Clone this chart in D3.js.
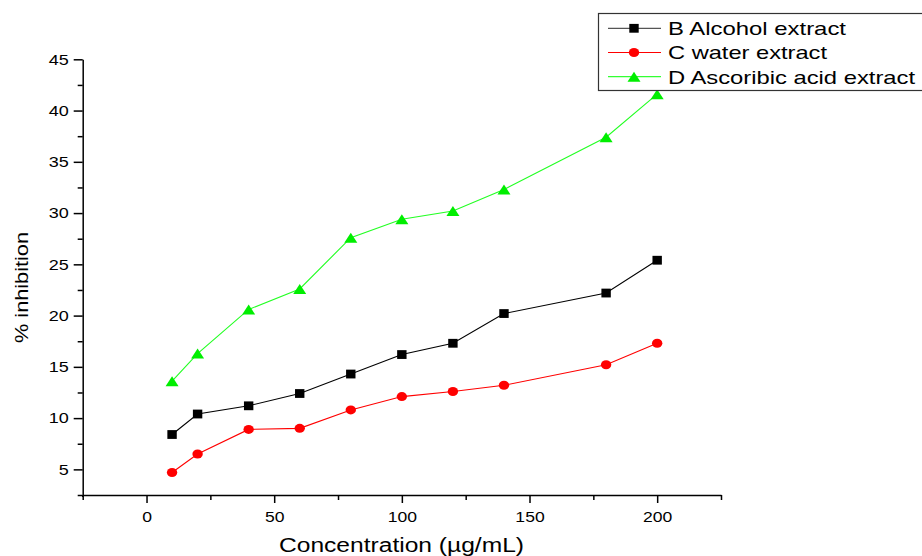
<!DOCTYPE html>
<html>
<head>
<meta charset="utf-8">
<script src="https://cdn.jsdelivr.net/npm/d3@7"></script>
<style>
  html, body { margin: 0; padding: 0; background: #fff; }
  svg { display: block; font-family: "Liberation Sans", Arial, sans-serif; }
</style>
</head>
<body>
<svg id="chart" width="922" height="556"></svg>
<script>
// Concentrations tested (µg/mL)
const concentrations = [10, 20, 40, 60, 80, 100, 120, 140, 180, 200];
// % inhibition for each extract
const alcoholExtract = [8.4, 10.4, 11.2, 12.4, 14.3, 16.2, 17.3, 20.2, 22.2, 25.4];
const waterExtract = [4.7, 6.5, 8.9, 9.0, 10.8, 12.1, 12.6, 13.2, 15.2, 17.3];
const ascorbicExtract = [13.6, 16.3, 20.6, 22.6, 27.6, 29.4, 30.2, 32.3, 37.4, 41.6];

const seriesNames = ["B Alcohol extract", "C water extract", "D Ascoribic acid extract"];
const xMajorTicks = [0, 50, 100, 150, 200];
const xMinorTicks = [-25, 25, 75, 125, 175, 225];
const yMajorTicks = [5, 10, 15, 20, 25, 30, 35, 40, 45];
const yMinorTicks = [2.5, 7.5, 12.5, 17.5, 22.5, 27.5, 32.5, 37.5, 42.5];

const svg = d3.select("#chart");

const x = d3.scaleLinear().domain([-25, 225]).range([82.7, 721]);
const y = d3.scaleLinear().domain([2.5, 45]).range([495, 59.3]);

// Stretch text horizontally by a factor, keeping its anchor
function widen(sel, factor) {
  sel.each(function () {
    const w = this.getComputedTextLength();
    d3.select(this).attr("textLength", w * factor).attr("lengthAdjust", "spacingAndGlyphs");
  });
}

// Axes
const xAxisG = svg.append("g").attr("transform", `translate(0,${y(2.5)})`);
xAxisG.call(d3.axisBottom(x).tickValues(xMinorTicks).tickSize(5).tickFormat(""));
xAxisG.call(g => g.select(".domain").remove());
const xMajorG = svg.append("g").attr("transform", `translate(0,${y(2.5)})`)
  .call(d3.axisBottom(x).tickValues(xMajorTicks).tickSize(8).tickSizeOuter(0).tickPadding(8));

const yAxisG = svg.append("g").attr("transform", `translate(${x(-25)},0)`);
yAxisG.call(d3.axisLeft(y).tickValues(yMinorTicks).tickSize(5).tickFormat(""));
yAxisG.call(g => g.select(".domain").remove());
const yMajorG = svg.append("g").attr("transform", `translate(${x(-25)},0)`)
  .call(d3.axisLeft(y).tickValues(yMajorTicks).tickSize(9).tickSizeOuter(0).tickPadding(5));

svg.selectAll(".domain, .tick line").attr("stroke", "#000").attr("stroke-width", 1.5);
svg.selectAll(".tick text").attr("font-size", 15).attr("fill", "#000")
  .attr("font-family", "'Liberation Sans', Arial, sans-serif");
widen(xMajorG.selectAll(".tick text"), 1.17);
widen(yMajorG.selectAll(".tick text"), 1.2);
// Extend the y axis line a bit below the x axis
svg.append("line").attr("x1", x(-25)).attr("x2", x(-25))
  .attr("y1", y(2.5)).attr("y2", y(2.5) + 2).attr("stroke", "#000").attr("stroke-width", 1.5);

// Axis titles
svg.append("text").attr("x", 401.5).attr("y", 551.5)
  .attr("text-anchor", "middle").attr("font-size", 20).attr("fill", "#000")
  .attr("textLength", 245).attr("lengthAdjust", "spacingAndGlyphs")
  .text("Concentration (µg/mL)");

svg.append("text").attr("transform", "translate(28,287.5) rotate(-90)")
  .attr("text-anchor", "middle").attr("font-size", 19).attr("fill", "#000")
  .attr("textLength", 111).attr("lengthAdjust", "spacingAndGlyphs")
  .text("% inhibition");

// Marker drawers
const markers = {
  square: (g, cx, cy, color) => g.append("rect").attr("x", cx - 4.7).attr("y", cy - 4.4)
    .attr("width", 9.4).attr("height", 8.8).attr("fill", color),
  circle: (g, cx, cy, color) => g.append("ellipse").attr("cx", cx).attr("cy", cy)
    .attr("rx", 5.2).attr("ry", 4.5).attr("fill", color),
  triangle: (g, cx, cy, color) => g.append("path")
    .attr("d", `M${cx - 6.5},${cy + 5}L${cx + 6.5},${cy + 5}L${cx},${cy - 5}Z`).attr("fill", color)
};

const series = [
  { name: seriesNames[0], values: alcoholExtract, line: "#000", fill: "#000", marker: "square", legendLine: "#555" },
  { name: seriesNames[1], values: waterExtract, line: "#ff0000", fill: "#ff0000", marker: "circle", legendLine: "#ff0000" },
  { name: seriesNames[2], values: ascorbicExtract, line: "#22ff22", fill: "#00ee00", marker: "triangle", legendLine: "#33ff33" }
];

const lineGen = d3.line().x(d => x(d[0])).y(d => y(d[1]));

series.forEach(s => {
  const pts = concentrations.map((c, i) => [c, s.values[i]]);
  svg.append("path").datum(pts).attr("d", lineGen)
    .attr("fill", "none").attr("stroke", s.line).attr("stroke-width", 1.1);
  const g = svg.append("g");
  pts.forEach(p => markers[s.marker](g, x(p[0]), y(p[1]), s.fill));
});

// Legend
const legend = svg.append("g");
legend.append("rect").attr("x", 598.5).attr("y", 13.5).attr("width", 340).attr("height", 77)
  .attr("fill", "#fff").attr("stroke", "#333").attr("stroke-width", 1.2);
const rowY = [28.3, 52.5, 76.7];
const textLens = [178, 159, 247];
series.forEach((s, i) => {
  const cy = rowY[i];
  legend.append("line").attr("x1", 608).attr("x2", 661).attr("y1", cy).attr("y2", cy)
    .attr("stroke", s.legendLine).attr("stroke-width", 1.2);
  markers[s.marker](legend, 634, cy, s.fill);
  legend.append("text").attr("x", 668).attr("y", cy + 6.8)
    .attr("font-size", 18.5).attr("fill", "#000")
    .attr("textLength", textLens[i]).attr("lengthAdjust", "spacingAndGlyphs")
    .text(s.name);
});
</script>
</body>
</html>
